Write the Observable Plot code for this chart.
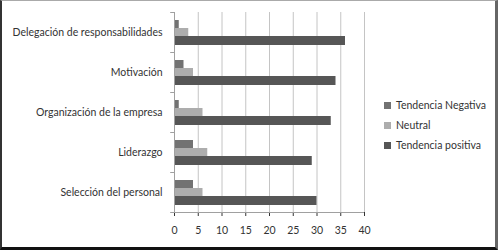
<!DOCTYPE html>
<html>
<head>
<meta charset="utf-8">
<script src="https://cdn.jsdelivr.net/npm/d3@7"></script>
<script src="https://cdn.jsdelivr.net/npm/@observablehq/plot@0.6"></script>
<style>
  html, body { margin: 0; padding: 0; background: #fff; }
  #wrap { position: relative; width: 498px; height: 250px; overflow: hidden; font-family: Lato, sans-serif; }
  #chart svg { display: block; }
  #border { position: absolute; left: 0; top: 0; width: 498px; height: 250px; box-sizing: border-box;
            border-left: 2px solid #333; border-right: 3px solid #666; border-bottom: 3px solid #111; border-top: 1px solid #aaa; pointer-events: none; }
  #legend { position: absolute; left: 384px; top: 95px; font-size: 10.5px; color: #333; }
  #legend .row { height: 20px; display: flex; align-items: center; }
  #legend .sw { width: 7px; height: 7px; margin-right: 5px; }
</style>
</head>
<body>
<div id="wrap">
  <div id="chart"></div>
  <div id="legend"></div>
  <div id="border"></div>
</div>
<script>
const categories = ["Delegación de responsabilidades", "Motivación", "Organización de la empresa", "Liderazgo", "Selección del personal"];
const series = ["Tendencia Negativa", "Neutral", "Tendencia positiva"];
const colors = ["#727272", "#adadad", "#565656"];
const negativa = [1, 2, 1, 4, 4];
const neutral = [3, 4, 6, 7, 6];
const positiva = [36, 34, 33, 29, 30];
const xTicks = [0, 5, 10, 15, 20, 25, 30, 35, 40];

const valuesBySeries = [negativa, neutral, positiva];
const data = [];
series.forEach((s, si) => categories.forEach((c, ci) => data.push({category: c, series: s, value: valuesBySeries[si][ci]})));

const insets = [[8, 24], [16, 16], [24, 7]];

const chart = Plot.plot({
  width: 498,
  height: 250,
  marginLeft: 174,
  marginRight: 134,
  marginTop: 12,
  marginBottom: 38,
  style: {fontFamily: "Lato, sans-serif", fontSize: "10.5px", color: "#333", background: "transparent"},
  x: {domain: [0, 40], ticks: xTicks, tickFormat: d => String(d), tickSize: 4, tickPadding: 10, label: null},
  y: {domain: categories, padding: 0, label: null, tickSize: 0, tickPadding: 12},
  marks: [
    Plot.ruleX(xTicks.filter(t => t > 0), {stroke: "#c4c4c4"}),
    ...series.map((s, si) => Plot.barX(data.filter(d => d.series === s), {
      x: "value", y: "category", fill: colors[si], insetTop: insets[si][0], insetBottom: insets[si][1]
    })),
    Plot.ruleX([0], {stroke: "#a0a0a0"}),
    Plot.ruleY(categories, {y: d => d, x1: -0.8, x2: 0, dy: -20, stroke: "#a0a0a0"}),
    Plot.ruleY([categories[categories.length - 1]], {y: d => d, x1: -0.8, x2: 40, dy: 20, stroke: "#a0a0a0"})
  ]
});
document.getElementById("chart").appendChild(chart);

const legend = document.getElementById("legend");
series.forEach((s, i) => {
  const row = document.createElement("div");
  row.className = "row";
  const sw = document.createElement("div");
  sw.className = "sw";
  sw.style.background = colors[i];
  const t = document.createElement("span");
  t.textContent = s;
  row.appendChild(sw);
  row.appendChild(t);
  legend.appendChild(row);
});
</script>
</body>
</html>
